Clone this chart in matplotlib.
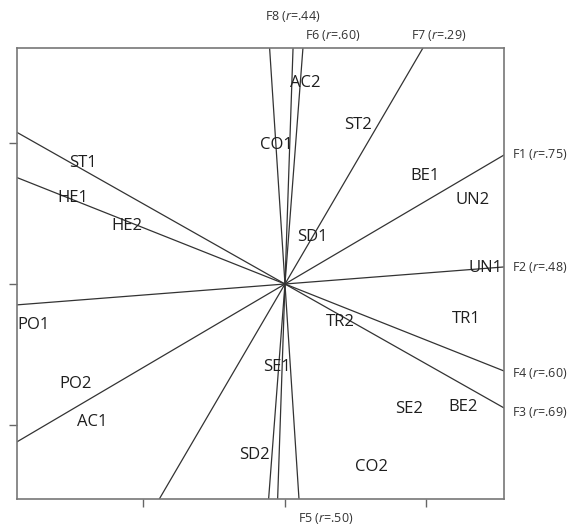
import matplotlib
matplotlib.use("Agg")
import matplotlib.pyplot as plt

# direction of each fitted vector (point where it leaves the plot box, data units)
VEC_NAMES = ["F1", "F2", "F3", "F4", "F5", "F6", "F7", "F8"]
VEC_R = [".75", ".48", ".69", ".60", ".50", ".60", ".29", ".44"]
VEC_X = [1.548, 1.548, 1.548, 1.548, 0.099, 0.127, 0.975, 0.057]
VEC_Y = [0.915, 0.121, -0.879, -0.617, -1.525, 1.674, 1.674, 1.674]

# object labels plotted in the ordination space
OBJ_NAMES = ["AC2", "ST2", "CO1", "ST1", "BE1", "HE1", "UN2", "HE2", "SD1", "UN1",
             "PO1", "TR2", "TR1", "SE1", "PO2", "SE2", "BE2", "AC1", "SD2", "CO2"]
OBJ_X = [0.141, 0.516, -0.064, -1.428, 0.989, -1.498, 1.329, -1.117, 0.191, 1.420,
         -1.774, 0.389, 1.279, -0.057, -1.477, 0.876, 1.258, -1.364, -0.219, 0.608]
OBJ_Y = [1.426, 1.128, 0.986, 0.858, 0.766, 0.610, 0.596, 0.411, 0.333, 0.113,
         -0.291, -0.270, -0.248, -0.589, -0.709, -0.887, -0.872, -0.979, -1.213, -1.298]

XLIM = (-1.894, 1.548)
YLIM = (-1.525, 1.674)

# label offsets in pixels (dx, dy) from the edge point
LABEL_OFFSETS = {
    "F1": (8, 1), "F2": (8, -1), "F3": (8, -5), "F4": (8, -3),
    "F5": (-1, -19), "F6": (2, 13), "F7": (-12, 13), "F8": (-28, 32),
}

plt.rcParams["font.family"] = ["Open Sans", "DejaVu Sans"]
plt.rcParams["mathtext.fontset"] = "custom"
plt.rcParams["mathtext.rm"] = "Open Sans"
plt.rcParams["mathtext.it"] = "Open Sans:italic"


def edge_point(vx, vy):
    ts = []
    if vx > 0:
        ts.append(XLIM[1] / vx)
    elif vx < 0:
        ts.append(XLIM[0] / vx)
    if vy > 0:
        ts.append(YLIM[1] / vy)
    elif vy < 0:
        ts.append(YLIM[0] / vy)
    t = min(ts)
    return vx * t, vy * t


fig = plt.figure(figsize=(5.76, 5.27), dpi=100)
ax = fig.add_axes([17 / 576, 1 - 499 / 527, 487 / 576, 451 / 527])
ax.set_xlim(*XLIM)
ax.set_ylim(*YLIM)

for name, r, vx, vy in zip(VEC_NAMES, VEC_R, VEC_X, VEC_Y):
    ax.plot([-10 * vx, 10 * vx], [-10 * vy, 10 * vy], color="#333333", lw=0.9)
    ex, ey = edge_point(vx, vy)
    dx, dy = LABEL_OFFSETS[name]
    ax.annotate(name + " ($\\mathit{r}$=" + r + ")", xy=(ex, ey),
                xytext=(dx, dy), textcoords="offset pixels",
                ha="left", va="center", fontsize=9, color="#333333",
                annotation_clip=False)

for name, x, y in zip(OBJ_NAMES, OBJ_X, OBJ_Y):
    ax.text(x, y, name, ha="center", va="center", fontsize=12, color="#1e1e1e")

ax.set_xticks([-1, 0, 1])
ax.set_yticks([-1, 0, 1])
ax.set_xticklabels([])
ax.set_yticklabels([])
ax.tick_params(direction="out", length=6, width=1, color="#666666")
for sp in ax.spines.values():
    sp.set_color("#777777")
    sp.set_linewidth(1.2)

fig.savefig("out.png", dpi=100)
